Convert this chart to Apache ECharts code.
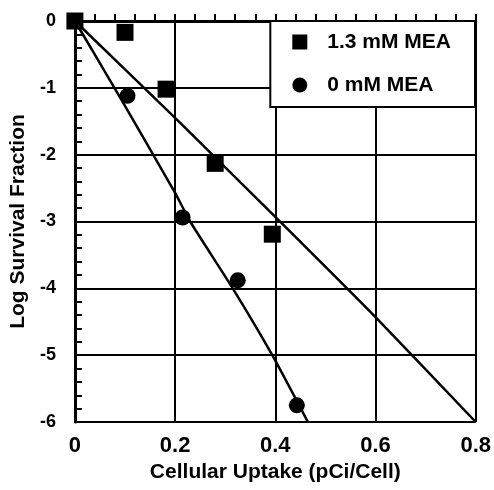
<!DOCTYPE html>
<html>
<head>
<meta charset="utf-8">
<script src="https://cdn.jsdelivr.net/npm/echarts@6/dist/echarts.min.js"></script>
<style>
  html, body { margin: 0; padding: 0; background: #fff; }
  #chart { width: 494px; height: 490px; }
</style>
</head>
<body>
<div id="chart"></div>
<script>
// measured points
const mea13Points = [[0, 0], [0.1, -0.17], [0.182, -1.02], [0.28, -2.13], [0.394, -3.19]];
const mea0Points = [[0, 0], [0.105, -1.12], [0.215, -2.94], [0.325, -3.88], [0.443, -5.75]];

// fitted curves
const mea13Fit = [[0, 0], [0.2, -1.45], [0.4, -2.93], [0.6, -4.43], [0.8, -6]];
const mea0Fit = [[0, 0], [0.034, -0.43], [0.093, -1.18], [0.2, -2.57], [0.23, -3], [0.315, -4], [0.394, -5], [0.465, -6]];

const xTicks = [0, 0.2, 0.4, 0.6, 0.8];
const yTicks = [0, -1, -2, -3, -4, -5, -6];

const font = "'Liberation Sans', Arial, sans-serif";
const chart = echarts.init(document.getElementById("chart"));

const lineSeries = (name, data) => ({
  name: name,
  type: "line",
  data: data,
  showSymbol: false,
  smooth: 0.2,
  lineStyle: { color: "#000", width: 2.5 },
  z: 3,
});

chart.setOption({
  animation: false,
  backgroundColor: "#fff",
  grid: { left: 73, right: 17, top: 21, bottom: 68 },
  legend: {
    data: ["1.3 mM MEA", "0 mM MEA"],
    orient: "vertical",
    right: 19,
    top: 21,
    itemWidth: 15,
    itemHeight: 15,
    itemGap: 21,
    padding: [10, 24, 11, 22],
    backgroundColor: "#fff",
    borderColor: "#000",
    borderWidth: 2,
    borderRadius: 0,
    textStyle: {
      fontFamily: font, fontWeight: "bold", fontSize: 21, lineHeight: 22,
      color: "#000", padding: [0, 0, 0, 15],
    },
    z: 10,
  },
  xAxis: {
    type: "value",
    min: 0,
    max: 0.8,
    interval: 0.2,
    name: "Cellular Uptake (pCi/Cell)",
    nameLocation: "middle",
    nameGap: 34,
    nameTextStyle: { fontFamily: font, fontWeight: "bold", fontSize: 21, color: "#000" },
    axisLine: { show: true, lineStyle: { color: "#000", width: 3 } },
    axisTick: { show: true, inside: true, length: 7, lineStyle: { color: "#000", width: 2 } },
    minorTick: { show: true, splitNumber: 5, length: 7, lineStyle: { color: "#000", width: 2 } },
    splitLine: { show: true, lineStyle: { color: "#000", width: 2 } },
    axisLabel: {
      margin: 13,
      fontFamily: font, fontWeight: "bold", fontSize: 22, color: "#000",
      customValues: xTicks,
      formatter: (v) => (v === 0 ? "0" : v.toFixed(1)),
    },
  },
  yAxis: {
    type: "value",
    min: -6,
    max: 0,
    interval: 1,
    name: "Log Survival Fraction",
    nameLocation: "middle",
    nameGap: 44,
    nameTextStyle: { fontFamily: font, fontWeight: "bold", fontSize: 21, color: "#000" },
    axisLine: { show: true, lineStyle: { color: "#000", width: 3 } },
    axisTick: { show: true, inside: true, length: 7, lineStyle: { color: "#000", width: 2 } },
    minorTick: { show: true, splitNumber: 5, length: 7, lineStyle: { color: "#000", width: 2 } },
    splitLine: { show: true, lineStyle: { color: "#000", width: 2 } },
    axisLabel: {
      margin: 19,
      fontFamily: font, fontWeight: "bold", fontSize: 18, color: "#000",
      customValues: yTicks,
    },
  },
  series: [
    lineSeries("fit 1.3", mea13Fit),
    lineSeries("fit 0", mea0Fit),
    {
      name: "1.3 mM MEA",
      type: "scatter",
      data: mea13Points,
      symbol: "rect",
      symbolSize: 17,
      itemStyle: { color: "#000", opacity: 1 },
      z: 4,
    },
    {
      name: "0 mM MEA",
      type: "scatter",
      data: mea0Points,
      symbol: "circle",
      symbolSize: 16,
      itemStyle: { color: "#000", opacity: 1 },
      z: 4,
    },
  ],
});
</script>
</body>
</html>
